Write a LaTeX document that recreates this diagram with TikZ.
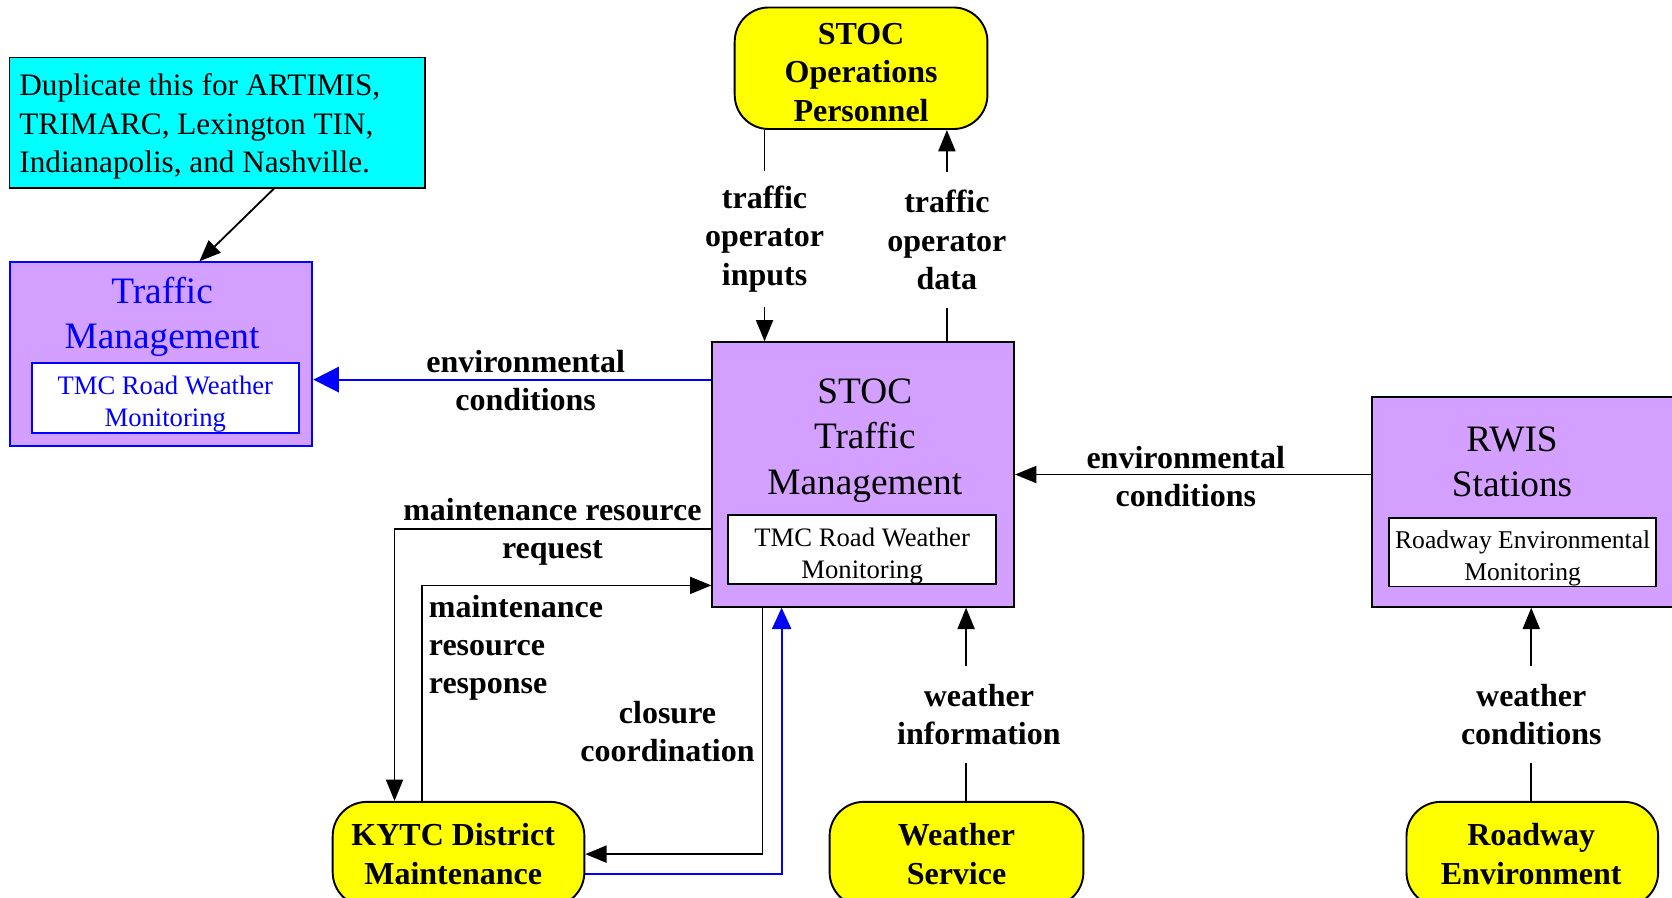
\documentclass[tikz,border=0pt]{standalone}
\usepackage{fontspec}
\setmainfont{Liberation Serif}
\usetikzlibrary{arrows.meta}
\definecolor{vio}{RGB}{212,160,255}
\definecolor{yel}{RGB}{255,255,0}
\definecolor{cyn}{RGB}{0,255,255}
\definecolor{bl}{RGB}{0,0,255}
\begin{document}
\begin{tikzpicture}[x=1pt,y=-1pt,
  lbl/.style={font=\fontsize{30}{36}\selectfont\bfseries, align=center, inner sep=0pt},
  ttl/.style={font=\fontsize{35}{42.5}\selectfont, align=center, inner sep=0pt},
  subbox/.style={draw, fill=white, line width=1.8pt, inner sep=0pt},
  subtxt/.style={font=\fontsize{25}{30}\selectfont, align=center, inner sep=0pt},
  sysbox/.style={draw, line width=1.8pt, fill=vio, inner sep=0pt},
  term/.style={draw, line width=1.8pt, fill=yel, rounded corners=32pt, inner sep=0pt},
  termtxt/.style={font=\fontsize{30}{36}\selectfont\bfseries, align=center, inner sep=0pt},
  conn/.style={line width=1.7pt},
  arr/.style={conn, -{Triangle[length=20pt,width=16pt]}},
  barr/.style={conn, draw=bl, -{Triangle[length=24pt,width=24pt]}},
  barrs/.style={conn, draw=bl, -{Triangle[length=20pt,width=18pt]}}
]
\useasboundingbox (0,0) rectangle (1568,842);

% note box
\node[draw, line width=1.8pt, fill=cyn, anchor=north west, minimum width=390pt,
      minimum height=122pt] (dup) at (8,53) {};
\node[font=\fontsize{29.3}{36.5}\selectfont, align=left, anchor=west, inner sep=0pt] (dupT) at (18,118.5)
  {Duplicate this for ARTIMIS,\\TRIMARC, Lexington TIN,\\Indianapolis, and Nashville.};

% left traffic management
\node[sysbox, draw=bl, minimum width=284pt, minimum height=172pt] (tm) at (151,332) {};
\node[ttl, text=bl] (tmT) at (152,297) {Traffic\\Management};
\node[subbox, draw=bl, minimum width=250pt, minimum height=66pt] (tmI) at (155,373) {};
\node[subtxt, text=bl] (tmIT) at (155,379) {TMC Road Weather\\Monitoring};

% STOC traffic management
\node[sysbox, minimum width=283pt, minimum height=248pt] (stoc) at (809.5,445) {};
\node[ttl] (stocT) at (811,413) {STOC\\Traffic\\Management};
\node[subbox, minimum width=251pt, minimum height=65pt] (stocI) at (808.5,515.5) {};
\node[subtxt] (stocIT) at (808.5,521.5) {TMC Road Weather\\Monitoring};

% RWIS
\node[sysbox, minimum width=283pt, minimum height=197pt] (rwis) at (1428.5,470.5) {};
\node[ttl] (rwisT) at (1418,433) {RWIS\\Stations};
\node[subbox, minimum width=250pt, minimum height=64pt] (rwisI) at (1428,518) {};
\node[subtxt, font=\fontsize{24}{30}\selectfont] (rwisIT) at (1428,524) {Roadway Environmental\\Monitoring};

% terminators
\node[term, minimum width=237pt, minimum height=114pt] (ops) at (807.5,64) {};
\node[termtxt] (opsT) at (807.5,68) {STOC\\Operations\\Personnel};
\node[term, minimum width=236pt, minimum height=98pt] (kytc) at (430,801) {};
\node[termtxt] (kytcT) at (425,801) {KYTC District\\Maintenance};
\node[term, minimum width=238pt, minimum height=98pt] (ws) at (897,801) {};
\node[termtxt] (wsT) at (897,801) {Weather\\Service};
\node[term, minimum width=236pt, minimum height=98pt] (re) at (1437,801) {};
\node[termtxt] (reT) at (1436,801) {Roadway\\Environment};

% labels
\node[lbl, minimum height=127pt] (lA) at (717,224) {traffic\\operator\\inputs};
\node[lbl, minimum height=127pt] (lB) at (888,225) {traffic\\operator\\data};
\node[lbl, minimum height=91pt] (lW) at (918,670) {weather\\information};
\node[lbl, minimum height=91pt] (lC) at (1436,670) {weather\\conditions};
\node[lbl] (lE1) at (1112,447) {environmental\\conditions};
\node[lbl] (lE2) at (493,357) {environmental\\conditions};
\node[lbl] (lR) at (518,499) {maintenance resource\\request};
\node[lbl, align=left, anchor=west] (lP) at (402,607.5) {maintenance\\resource\\response};
\node[lbl] (lCl) at (626,686) {closure\\coordination};

% connectors
\draw[arr] (dup.south -| 257,0) -- (tm.north -| 187,0);
\draw[conn] (ops.south -| lA) -- (lA.north);
\draw[arr] (lA.south) -- (stoc.north -| lA);
\draw[conn] (stoc.north -| lB) -- (lB.south);
\draw[arr] (lB.north) -- (ops.south -| lB);
\draw[conn] (ws.north -| 906,0) -- (lW.south -| 906,0);
\draw[arr] (lW.north -| 906,0) -- (stoc.south -| 906,0);
\draw[conn] (re.north -| lC) -- (lC.south);
\draw[arr] (lC.north) -- (rwis.south -| lC);
\draw[arr] (rwis.west |- 0,445) -- (stoc.east |- 0,445);
\draw[barr] (stoc.west |- 0,356) -- (tm.east |- 0,356);
\draw[arr] (stoc.west |- 0,496) -| (kytc.north -| 370,0);
\draw[arr] (kytc.north -| 396,0) |- (stoc.west |- 0,549);
\draw[arr] (stoc.south -| 715,0) |- (kytc.east |- 0,801);
\draw[barrs] (kytc.east |- 0,820) -| (stoc.south -| 733,0);
\end{tikzpicture}
\end{document}
